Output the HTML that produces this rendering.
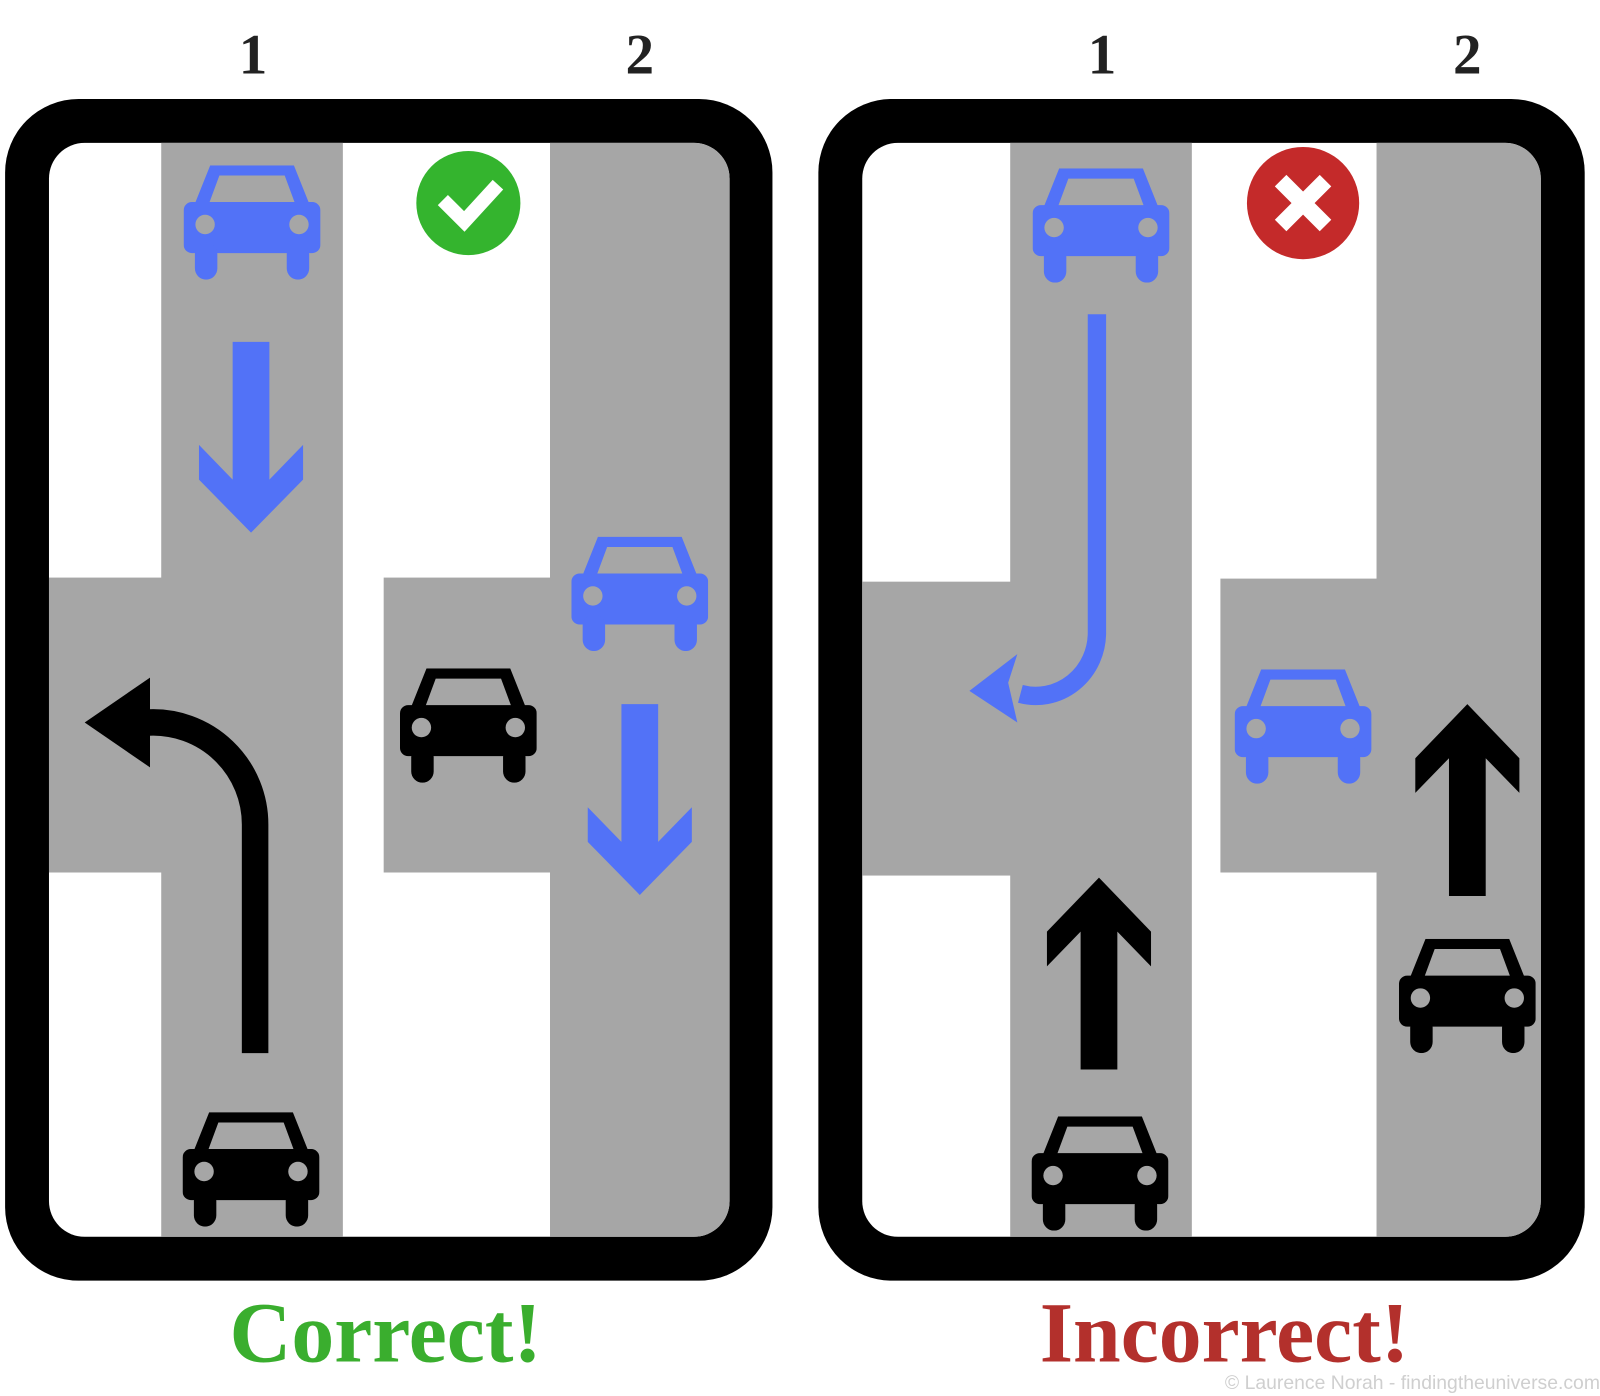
<!DOCTYPE html>
<html><head><meta charset="utf-8"><style>html,body{margin:0;padding:0;background:#fff}svg{display:block}</style></head>
<body>
<svg width="1600" height="1396" viewBox="0 0 1568 1368" preserveAspectRatio="none" xmlns="http://www.w3.org/2000/svg">
<defs>
<symbol id="car" viewBox="0 0 134 112">
<path fill-rule="evenodd" d="M26 0 H108 L124 40 H10 Z M35 10 H99 L109 37 H25 Z"/>
<rect x="0" y="36" width="134" height="50" rx="8"/>
<circle cx="21" cy="58" r="9.5" fill="#a6a6a6"/>
<circle cx="113" cy="58" r="9.5" fill="#a6a6a6"/>
<rect x="11" y="76" width="22" height="36" rx="11"/>
<rect x="101" y="76" width="22" height="36" rx="11"/>
</symbol>
<clipPath id="cl"><rect x="48" y="140" width="667" height="1072" rx="35"/></clipPath>
<clipPath id="cr"><rect x="845" y="140" width="665" height="1072" rx="35"/></clipPath>
</defs>
<rect width="1568" height="1368" fill="#fff"/>
<g font-family="Liberation Serif, serif" font-weight="bold" fill="#222" font-size="56" text-anchor="middle">
<text x="248" y="72">1</text><text x="627" y="72">2</text>
<text x="1080" y="72">1</text><text x="1438" y="72">2</text>
</g>
<!-- left panel -->
<rect x="5" y="97" width="752" height="1158" rx="72" fill="#000"/>
<rect x="48" y="140" width="667" height="1072" rx="35" fill="#fff"/>
<g clip-path="url(#cl)" fill="#a6a6a6">
<rect x="158" y="130" width="178" height="1100"/>
<rect x="539" y="130" width="180" height="1100"/>
<rect x="40" y="566" width="120" height="289"/>
<rect x="376" y="566" width="165" height="289"/>
</g>
<circle cx="459" cy="199" r="51" fill="#34b42e"/>
<polyline points="434,196 455,217 488,181" fill="none" stroke="#fff" stroke-width="14"/>
<use href="#car" x="180" y="162" width="134" height="112" fill="#5272f7"/>
<use href="#car" x="560" y="526" width="134" height="112" fill="#5272f7"/>
<use href="#car" x="392" y="655" width="134" height="112" fill="#000"/>
<use href="#car" x="179" y="1090" width="134" height="112" fill="#000"/>
<polygon fill="#5272f7" points="228,335 228,470 195,436 195,470 246,522 297,470 297,436 264,470 264,335"/>
<polygon fill="#5272f7" points="609,690 609,825 576,791 576,825 627,877 678,825 678,791 645,825 645,690"/>
<path d="M250 1032 V808 A100 100 0 0 0 146 708" fill="none" stroke="#000" stroke-width="26"/>
<polygon points="83,708 147,664 147,752"/>
<!-- right panel -->
<rect x="802" y="97" width="751" height="1158" rx="72" fill="#000"/>
<rect x="845" y="140" width="665" height="1072" rx="35" fill="#fff"/>
<g clip-path="url(#cr)" fill="#a6a6a6">
<rect x="990" y="130" width="178" height="1100"/>
<rect x="1349" y="130" width="170" height="1100"/>
<rect x="840" y="570" width="152" height="288"/>
<rect x="1196" y="567" width="155" height="288"/>
</g>
<circle cx="1277" cy="199" r="55" fill="#c42a2a"/>
<path d="M1255 177 L1299 221 M1299 177 L1255 221" stroke="#fff" stroke-width="16"/>
<use href="#car" x="1012" y="165" width="134" height="112" fill="#5272f7"/>
<use href="#car" x="1210" y="656" width="134" height="112" fill="#5272f7"/>
<use href="#car" x="1371" y="920" width="134" height="112" fill="#000"/>
<use href="#car" x="1011" y="1094" width="134" height="112" fill="#000"/>
<path d="M1075 308 V620 A60 62 0 0 1 1000 680" fill="none" stroke="#5272f7" stroke-width="18"/>
<polygon fill="#5272f7" points="950,677 997,641 988,669 997,708"/>
<polygon points="1059,1048 1059,913 1026,947 1026,913 1077,860 1128,913 1128,947 1095,913 1095,1048"/>
<polygon points="1420,878 1420,743 1387,777 1387,743 1438,690 1489,743 1489,777 1456,743 1456,878"/>
<g font-family="Liberation Serif, serif" font-weight="bold" font-size="84" text-anchor="middle">
<text x="378" y="1334" fill="#3aae2e">Correct!</text>
<text x="1200" y="1334" fill="#b3302c">Incorrect!</text>
</g>
<text x="1568" y="1361" font-family="Liberation Sans, sans-serif" font-size="19" fill="#cfcfcf" text-anchor="end">© Laurence Norah - findingtheuniverse.com</text>
</svg>
</body></html>
